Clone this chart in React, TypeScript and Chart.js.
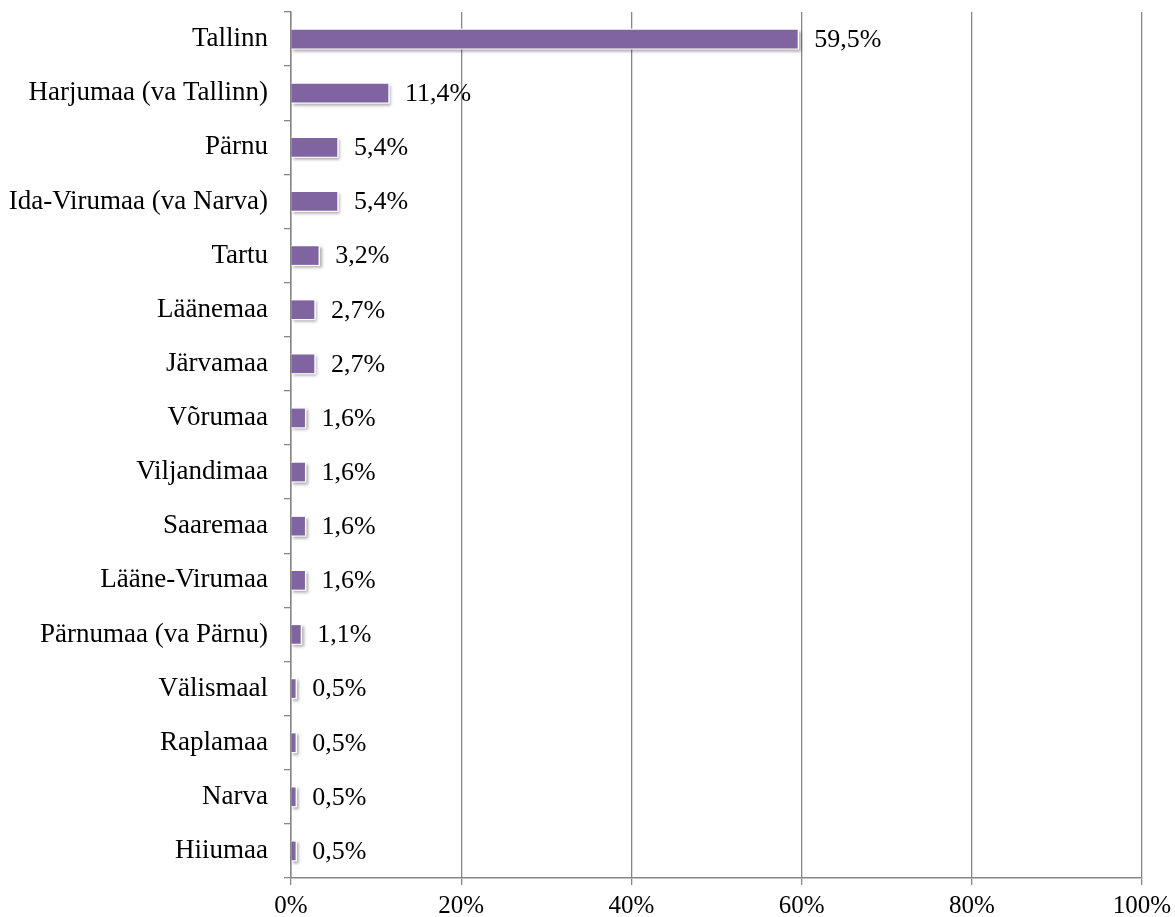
import React, { useEffect, useRef } from "react";
import { Chart, registerables } from "chart.js";

Chart.register(...registerables);

const categories = [
  "Tallinn",
  "Harjumaa (va Tallinn)",
  "Pärnu",
  "Ida-Virumaa (va Narva)",
  "Tartu",
  "Läänemaa",
  "Järvamaa",
  "Võrumaa",
  "Viljandimaa",
  "Saaremaa",
  "Lääne-Virumaa",
  "Pärnumaa (va Pärnu)",
  "Välismaal",
  "Raplamaa",
  "Narva",
  "Hiiumaa",
];

const values = [59.5, 11.4, 5.4, 5.4, 3.2, 2.7, 2.7, 1.6, 1.6, 1.6, 1.6, 1.1, 0.5, 0.5, 0.5, 0.5];

const xTicks = [0, 20, 40, 60, 80, 100];

const FONT = "'Liberation Serif', 'Times New Roman', serif";
const FONT_SIZE = 25;
const VALUE_FONT_SIZE = 26;
const CAT_FONT_SIZE = 27;
const GRID = "#878787";
const BAR = "#8064A2";

const fmt = (v: number) => v.toFixed(1).replace(".", ",") + "%";

// white outline with soft shadow drawn behind each bar
const outlinePlugin = {
  id: "barOutline",
  beforeDatasetsDraw(chart: any) {
    const ctx = chart.ctx;
    const meta = chart.getDatasetMeta(0);
    ctx.save();
    ctx.shadowColor = "rgba(0,0,0,0.35)";
    ctx.shadowBlur = 3;
    ctx.shadowOffsetX = 1.5;
    ctx.shadowOffsetY = 2;
    ctx.fillStyle = "#ffffff";
    meta.data.forEach((el: any) => {
      const p = el.getProps(["x", "y", "base", "height"], true);
      const left = Math.min(p.base, p.x);
      const right = Math.max(p.base, p.x);
      ctx.fillRect(left, p.y - p.height / 2 - 1.5, right - left + 1.8, p.height + 3);
    });
    ctx.restore();
  },
};

const labelPlugin = {
  id: "valueLabels",
  afterDatasetsDraw(chart: any) {
    const ctx = chart.ctx;
    const meta = chart.getDatasetMeta(0);
    ctx.save();
    ctx.font = `${VALUE_FONT_SIZE}px ${FONT}`;
    ctx.fillStyle = "#000";
    ctx.textAlign = "left";
    ctx.textBaseline = "middle";
    meta.data.forEach((el: any, i: number) => {
      ctx.fillText(fmt(values[i]), el.x + 17, el.y + 1);
    });
    ctx.restore();
  },
};

export default function App() {
  const ref = useRef<HTMLCanvasElement>(null);

  useEffect(() => {
    if (!ref.current) return;
    const chart = new Chart(ref.current, {
      type: "bar",
      data: {
        labels: categories,
        datasets: [
          {
            data: values,
            backgroundColor: BAR,
            borderWidth: 0,
            barThickness: 18,
          },
        ],
      },
      options: {
        indexAxis: "y",
        responsive: false,
        animation: false,
        layout: { padding: { top: 12, right: 33, left: 0, bottom: 0 } },
        plugins: {
          legend: { display: false },
          tooltip: { enabled: false },
        },
        scales: {
          x: {
            min: 0,
            max: 100,
            afterBuildTicks: (scale: any) => {
              scale.ticks = xTicks.map((v) => ({ value: v }));
            },
            afterFit: (scale: any) => {
              scale.height = 39;
              scale.paddingLeft = 0;
              scale.paddingRight = 0;
            },
            grid: {
              color: GRID,
              lineWidth: 1.3,
              tickLength: 7,
              drawTicks: true,
            },
            border: { color: GRID, width: 1.5 },
            ticks: {
              color: "#000",
              font: { family: FONT, size: FONT_SIZE },
              padding: 6,
              callback: (v: any) => v + "%",
            },
          },
          y: {
            afterFit: (scale: any) => {
              scale.width = 291;
              scale.paddingTop = 0;
              scale.paddingBottom = 0;
            },
            grid: {
              offset: true,
              drawOnChartArea: false,
              color: GRID,
              lineWidth: 1.3,
              tickLength: 7,
            },
            border: { color: GRID, width: 1.5 },
            ticks: {
              color: "#000",
              font: { family: FONT, size: CAT_FONT_SIZE },
              padding: 16,
            },
          },
        },
      },
      plugins: [outlinePlugin, labelPlugin],
    });
    return () => chart.destroy();
  }, []);

  return (
    <div style={{ position: "absolute", left: 0, top: 0, width: 1175, height: 917, background: "#fff" }}>
      <canvas ref={ref} width={1175} height={917} />
    </div>
  );
}
